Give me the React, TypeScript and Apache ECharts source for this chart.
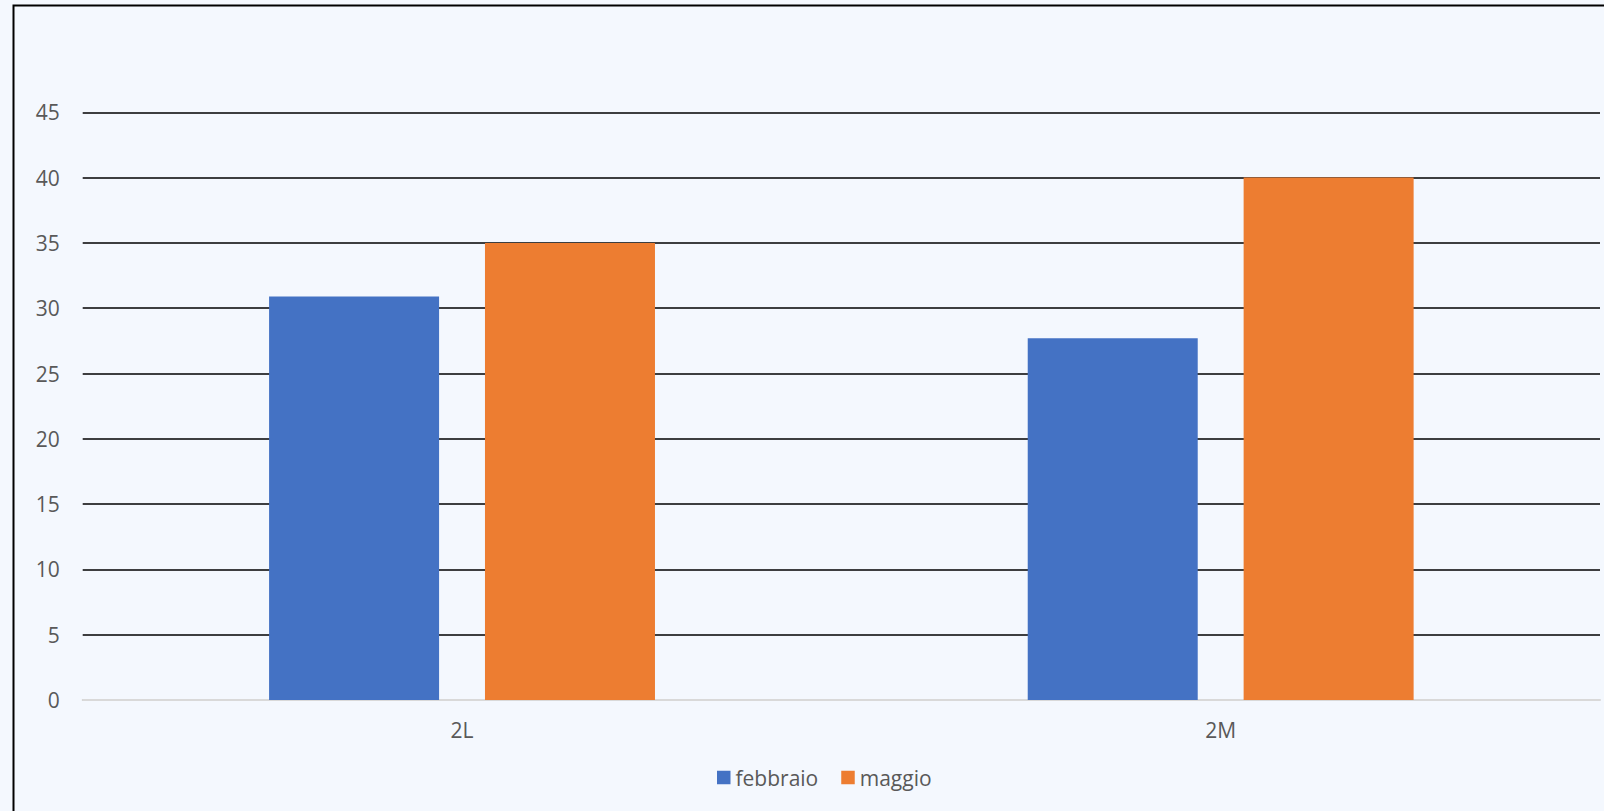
import React, { useEffect, useRef } from "react";
import * as echarts from "echarts";

const categories = ["2L", "2M"];
const febbraio = [30.9, 27.7];
const maggio = [35, 40];
const seriesNames = ["febbraio", "maggio"];

const FONT = "'Open Sans', 'Noto Sans', sans-serif";
const LABEL = "#595959";

export default function App() {
  const ref = useRef<HTMLDivElement>(null);
  useEffect(() => {
    if (!ref.current) return;
    const chart = echarts.init(ref.current, undefined, { renderer: "svg" });
    chart.setOption({
      animation: false,
      backgroundColor: "#F4F8FE",
      textStyle: { fontFamily: FONT },
      graphic: [
        {
          type: "polyline",
          shape: { points: [[13.5, 900], [13.5, 5.5], [1700, 5.5]] },
          style: { stroke: "#000", lineWidth: 2, fill: "none" },
          silent: true,
        },
      ],
      grid: { left: 82.7, right: 4, top: 112.3, bottom: 111, containLabel: false },
      legend: {
        data: seriesNames,
        left: 717,
        top: 767,
        padding: 0,
        icon: "rect",
        itemWidth: 13.5,
        itemHeight: 13.5,
        itemGap: 23,
        textStyle: { color: LABEL, fontSize: 21, fontFamily: FONT },
        itemStyle: { borderWidth: 0 },
      },
      xAxis: {
        type: "category",
        data: categories,
        axisLine: { show: true, lineStyle: { color: "#D9D9D9", width: 2 } },
        axisTick: { show: false },
        axisLabel: { color: LABEL, fontSize: 21, margin: 19, fontFamily: FONT },
      },
      yAxis: {
        type: "value",
        min: 0,
        max: 45,
        interval: 5,
        axisLine: { show: false },
        axisTick: { show: false },
        axisLabel: { color: LABEL, fontSize: 21, margin: 23, fontFamily: FONT },
        splitLine: { show: true, lineStyle: { color: "#000", width: 1.6 } },
      },
      series: [
        {
          name: seriesNames[0],
          type: "bar",
          data: febbraio,
          barWidth: 170,
          barGap: "27%",
          itemStyle: { color: "#4472C4" },
        },
        {
          name: seriesNames[1],
          type: "bar",
          data: maggio,
          barWidth: 170,
          barGap: "27%",
          itemStyle: { color: "#ED7D31" },
        },
      ],
    });
    return () => chart.dispose();
  }, []);
  return (
    <div
      ref={ref}
      style={{ position: "fixed", left: 0, top: 0, width: 1604, height: 811, background: "#F4F8FE" }}
    />
  );
}
